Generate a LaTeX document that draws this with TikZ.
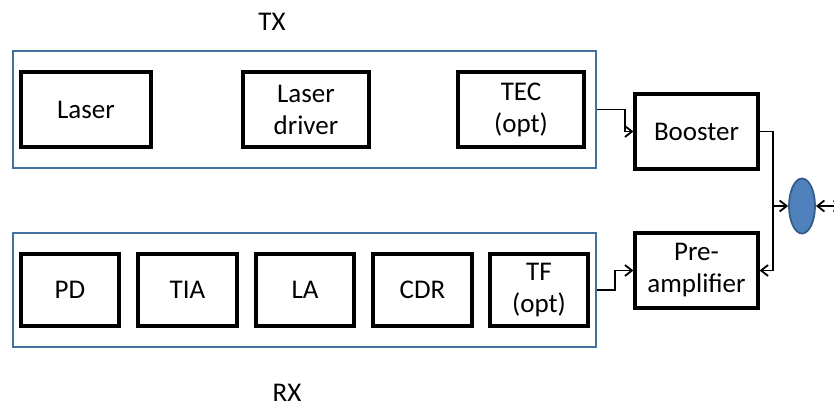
\documentclass[tikz,border=0pt]{standalone}
\usepackage{fontspec}
\setmainfont{Carlito}
\usetikzlibrary{arrows.meta,shapes.geometric}
\definecolor{frameblue}{RGB}{65,113,156}
\definecolor{portfill}{RGB}{79,129,189}
\definecolor{portline}{RGB}{56,93,138}
\begin{document}
\begin{tikzpicture}[x=1pt,y=-1pt,
  every node/.style={font=\fontsize{27}{32}\selectfont},
  block/.style={draw=black,line width=3.2pt,fill=white,align=center,inner sep=0pt,
                minimum height=75pt},
  group/.style={draw=frameblue,line width=2.4pt,inner sep=0pt},
  wire/.style={line width=1.8pt,draw=black},
  arr/.style={wire,-{Straight Barb[length=7pt,width=11pt]}},
  port/.style={ellipse,draw=portline,fill=portfill,line width=1.8pt,
               minimum width=26pt,minimum height=55pt,inner sep=0pt}]
\useasboundingbox (0,0) rectangle (834,408);

% transmitter group
\node[group,minimum width=583pt,minimum height=117pt] (tx) at (304.5,109.5) {};
\node (txlabel) at (272,21.5) {TX};
\node[block,minimum width=130pt] (laser) at (86,109.5) {Laser};
\node[block,minimum width=126pt] (driver) at (306,109.5) {Laser\\driver};
\node[block,minimum width=126pt] (tec) at (521,109.5) {TEC\\(opt)};

% receiver group
\node[group,minimum width=583pt,minimum height=114pt] (rx) at (304.5,290) {};
\node (rxlabel) at (287,393) {RX};
\node[block,minimum width=98pt,minimum height=72pt] (pd) at (70,290) {PD};
\node[block,minimum width=99pt,minimum height=72pt] (tia) at (187.5,290) {TIA};
\node[block,minimum width=98pt,minimum height=72pt] (la) at (305,290) {LA};
\node[block,minimum width=99pt,minimum height=72pt] (cdr) at (422.5,290) {CDR};
\node[block,minimum width=98pt,minimum height=72pt] (tf) at (539,290) {TF\\(opt)};

% amplifiers and optical port
\node[block,minimum width=123pt] (booster) at (696.5,131.5) {Booster};
\node[block,minimum width=123pt] (preamp) at (696.5,270.5) {Pre-\\amplifier};
\node[port] (port) at (802,206) {};
\coordinate (fiber) at (842,206);
\coordinate (split) at (773,206);

% connections
\draw[arr] (tx.east |- tec) -- (625,109.5) -- (625,131.5) -- (booster.west);
\draw[arr] (rx.east |- tf) -- (615,290) -- (615,270.5) -- (preamp.west);
\draw[arr] (booster.east) -- (split |- booster) -- (split |- preamp) -- (preamp.east);
\draw[arr] (split) -- (port.west);
\draw[wire,{Straight Barb[length=7pt,width=11pt]}-{Straight Barb[length=7pt,width=11pt]}] (port.east) -- (fiber);
\end{tikzpicture}
\end{document}
